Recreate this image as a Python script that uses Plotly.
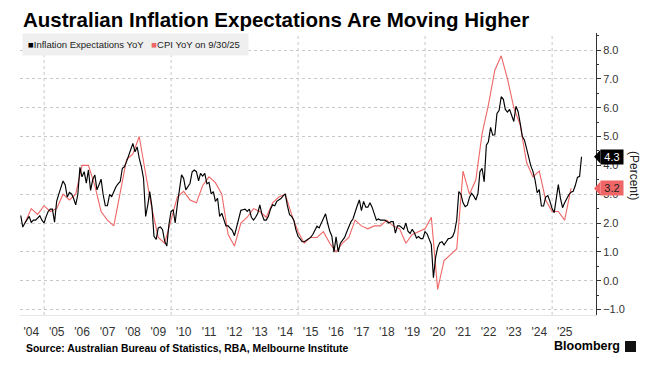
import plotly.graph_objects as go
import pandas as pd

# ---------------- data ----------------
# Melbourne Institute inflation expectations, monthly, Jan 2004 .. Feb 2026
exp_values = [
    2.26, 1.86, 2.0, 2.1, 2.23, 2.02, 2.1, 2.1, 2.17, 2.25, 2.1, 2.0,
    2.23, 2.4, 2.48, 2.48, 2.03, 2.75, 3.0, 3.26, 3.46, 3.32, 2.9, 3.06,
    3.01, 2.86, 2.63, 2.98, 3.93, 3.6, 3.78, 3.38, 3.84, 3.13, 3.5, 3.67,
    3.15, 3.32, 3.52, 2.98, 2.6, 2.6, 2.98, 2.92, 3.09, 3.26, 3.36, 3.44,
    3.9, 3.95, 4.13, 4.36, 4.53, 4.76, 4.47, 4.64, 4.24, 3.95, 3.55, 2.23,
    2.63, 3.09, 2.57, 1.54, 1.43, 1.83, 1.86, 1.77, 1.37, 1.2, 1.94, 2.4,
    2.46, 2.0, 2.63, 3.2, 3.67, 3.55, 3.15, 3.26, 3.38, 3.78, 3.84, 3.78,
    3.46, 3.72, 3.63, 3.72, 3.36, 3.41, 3.01, 3.09, 2.75, 2.86, 2.23, 2.34,
    2.1, 1.9, 1.9, 1.83, 1.74, 1.56, 1.83, 2.17, 2.44, 2.46, 2.48, 2.4,
    2.48, 2.2, 2.1, 2.2, 2.34, 2.63, 2.29, 2.1, 2.1, 2.23, 2.48, 2.63,
    2.6, 2.75, 2.8, 2.85, 2.94, 3.01, 2.6, 2.29, 2.23, 2.1, 1.77, 1.54,
    1.45, 1.35, 1.35, 1.4, 1.45, 1.5, 1.6, 1.75, 1.89, 1.83, 2.0, 2.15,
    2.32, 2.0, 1.72, 1.55, 0.99, 1.52, 1.0, 1.3, 1.4, 1.5, 1.69, 1.9,
    2.05, 2.14, 2.4, 2.6, 2.8, 2.43, 2.75, 2.55, 2.55, 2.7, 2.55, 2.35,
    2.1, 2.14, 2.1, 2.1, 2.1, 2.05, 2.0, 2.05, 2.05, 1.65, 1.9, 1.9,
    1.82, 1.78, 2.0, 1.72, 1.64, 1.78, 1.66, 1.48, 1.53, 1.46, 1.46, 1.7,
    1.62, 1.47, 1.25, 0.1, 0.8, 1.15, 1.32, 1.35, 1.24, 1.35, 1.46, 1.47,
    1.53, 1.7, 2.1, 3.09, 3.0, 2.7, 2.57, 2.62, 2.89, 3.03, 2.94, 2.8,
    3.03, 3.78, 3.9, 3.43, 4.7, 4.82, 5.32, 5.05, 5.06, 5.8, 5.9, 6.38,
    6.29, 5.94, 5.85, 5.94, 5.75, 5.52, 6.05, 5.86, 5.46, 5.0, 4.88, 4.54,
    4.29, 3.99, 3.79, 3.5, 3.05, 3.16, 2.59, 2.59, 2.9, 2.95, 2.76, 2.5,
    2.36, 2.8, 3.33, 2.87, 2.53, 2.7, 2.84, 2.99, 3.07, 3.1, 3.3, 3.58,
    3.62, 4.3,
]
exp_start = "2004-01-31"

# CPI YoY, quarterly, Mar 2004 .. Sep 2025
cpi_values = [
    2.0, 2.5, 2.3, 2.6, 2.4, 2.5, 3.0, 2.8, 3.0, 4.0, 4.0, 3.3,
    2.4, 2.1, 1.9, 3.0, 4.2, 4.4, 5.0, 3.7, 2.5, 1.5, 1.3, 2.1,
    2.9, 3.1, 2.8, 2.7, 3.3, 3.6, 3.4, 3.0, 1.6, 1.2, 2.0, 2.2,
    2.5, 2.4, 2.2, 2.7, 2.9, 3.0, 2.3, 1.7, 1.3, 1.5, 1.5, 1.7,
    1.3, 1.0, 1.3, 1.5, 2.1, 1.9, 1.8, 1.9, 1.9, 2.1, 1.9, 1.8,
    1.3, 1.6, 1.7, 1.8, 2.2, -0.3, 0.7, 0.9, 1.1, 3.8, 3.0, 3.5,
    5.1, 6.1, 7.3, 7.8, 7.0, 6.0, 5.4, 4.1, 3.6, 3.8, 2.8, 2.4,
    2.4, 2.1, 3.2,
]
cpi_start = "2004-03-31"

tick_years = list(range(2004, 2026))
tick_labels = ["'04", "'05", "'06", "'07", "'08", "'09", "'10", "'11", "'12", "'13", "'14",
               "'15", "'16", "'17", "'18", "'19", "'20", "'21", "'22", "'23", "'24", "'25"]
grid_years = [2005, 2010, 2015, 2020, 2025]

series_names = ["Inflation Expectations YoY", "CPI YoY on 9/30/25"]

# ---------------- figure ----------------
BLACK = "#000000"
RED = "#ee6666"
GRID = "#c8c8c8"

exp_dates = pd.date_range(exp_start, periods=len(exp_values), freq="ME")
cpi_dates = pd.date_range(cpi_start, periods=len(cpi_values), freq="QE")

YMIN, YMAX = -1.19, 8.59

fig = go.Figure()
fig.add_trace(go.Scatter(x=cpi_dates, y=cpi_values, mode="lines",
                         line=dict(color=RED, width=1.1), name=series_names[1]))
fig.add_trace(go.Scatter(x=exp_dates, y=exp_values, mode="lines",
                         line=dict(color=BLACK, width=1.15), name=series_names[0]))

for gy in grid_years:
    fig.add_vline(x=f"{gy}-01-01", line=dict(color=GRID, width=1, dash="dot"), layer="below")

fig.update_layout(
    width=659, height=370,
    margin=dict(l=20, r=63, t=33, b=55),
    paper_bgcolor="white", plot_bgcolor="white",
    showlegend=False,
    font=dict(family="Liberation Sans, Arial, sans-serif", color="#222"),
)

fig.update_xaxes(
    type="date",
    range=["2004-01-20", "2026-09-24"],
    tickmode="array",
    tickvals=[f"{y}-07-01" for y in tick_years],
    ticktext=tick_labels,
    showgrid=False, ticks="", zeroline=False,
    showline=True, linecolor="#e6e6e6", linewidth=1,
    tickfont=dict(size=12, color="#333"),
    ticklabelstandoff=6,
    automargin=False,
)

fig.update_yaxes(
    side="right",
    range=[YMIN, YMAX],
    tick0=0, dtick=1, tickformat=".1f",
    showgrid=True, gridcolor=GRID, griddash="dot", gridwidth=1,
    zeroline=False,
    ticks="outside", ticklen=4, tickcolor="#333",
    showline=True, linecolor="#333", linewidth=1,
    tickfont=dict(size=11, color="#333"),
    minor=dict(dtick=0.5, ticks="outside", ticklen=2, tickcolor="#333", showgrid=False),
    automargin=False,
)

def px_x(px):
    return (px - 20) / 576.0

def px_y(py):
    return (315 - py) / 282.0

annotations = []
# title
annotations.append(dict(
    text="<b>Australian Inflation Expectations Are Moving Higher</b>",
    xref="paper", yref="paper", x=px_x(21), y=px_y(20), xanchor="left", yanchor="middle",
    showarrow=False, font=dict(size=20.5, color="#000")))
# legend box
annotations.append(dict(
    text=(f"<span style='color:{BLACK}'>■</span>{series_names[0]}   "
          f"<span style='color:{RED}'>■</span>{series_names[1]} "),
    xref="paper", yref="paper", x=px_x(22), y=px_y(44), xanchor="left", yanchor="middle",
    showarrow=False, bgcolor="#efefef", borderpad=5,
    font=dict(size=9.5, color="#222")))
# axis title
annotations.append(dict(
    text="(Percent)", xref="paper", yref="paper", x=px_x(634), y=px_y(175),
    xanchor="center", yanchor="middle", textangle=90, showarrow=False,
    font=dict(size=12, color="#222")))
# source
annotations.append(dict(
    text="<b>Source: Australian Bureau of Statistics, RBA, Melbourne Institute</b>",
    xref="paper", yref="paper", x=px_x(24), y=px_y(348), xanchor="left", yanchor="middle",
    showarrow=False, font=dict(size=10.4, color="#000")))
# Bloomberg
annotations.append(dict(
    text="<b>Bloomberg</b>", xref="paper", yref="paper", x=px_x(622), y=px_y(346),
    xanchor="right", yanchor="middle", showarrow=False, font=dict(size=12.5, color="#000")))

shapes = []
# last-value tags
for val, bg, fg in [(exp_values[-1], BLACK, "#ffffff"), (cpi_values[-1], RED, "#222222")]:
    annotations.append(dict(
        text=f"{val:.1f}", xref="paper", yref="y", x=px_x(600), y=val,
        xanchor="left", yanchor="middle", showarrow=False, bgcolor=bg,
        width=20, height=12, borderpad=1, font=dict(size=11, color=fg)))
    yc = (val - YMIN) / (YMAX - YMIN)
    dy = 7.0 / 282.0
    shapes.append(dict(
        type="path", xref="paper", yref="paper",
        path=f"M {px_x(594)},{yc} L {px_x(600.5)},{yc + dy} L {px_x(600.5)},{yc - dy} Z",
        fillcolor=bg, line=dict(width=0), layer="above"))

# Bloomberg mark
shapes.append(dict(type="rect", xref="paper", yref="paper",
                   x0=px_x(625), x1=px_x(636), y0=px_y(352), y1=px_y(341),
                   fillcolor="#111", line=dict(width=0)))

fig.update_layout(annotations=annotations)
for s in shapes:
    fig.add_shape(**s)

fig.write_html("out.html", config={"displayModeBar": False},
               post_script="document.body.style.margin='0px';")
